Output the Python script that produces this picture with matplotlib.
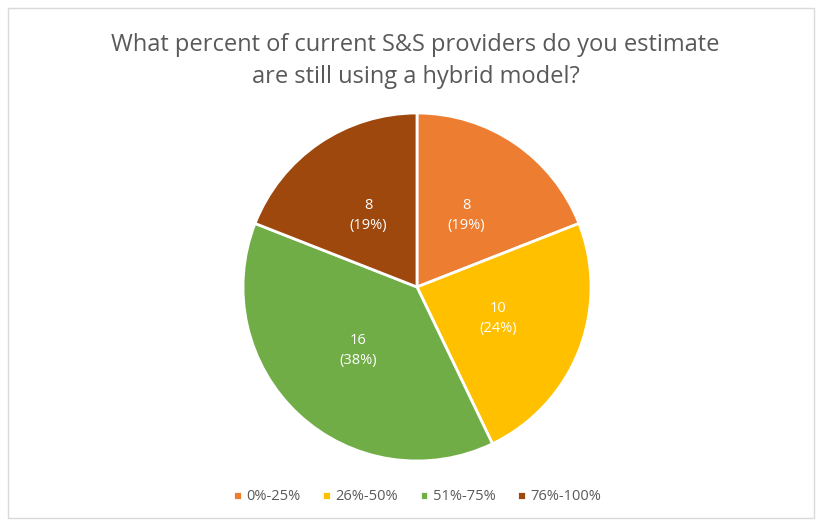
import matplotlib
matplotlib.use('Agg')
import matplotlib.pyplot as plt
from matplotlib.patches import Rectangle

# survey answers
categories = ['0%-25%', '26%-50%', '51%-75%', '76%-100%']
counts = [8, 10, 16, 8]
colors = ['#ED7D31', '#FFC000', '#70AD47', '#9E480E']

title = 'What percent of current S&S providers do you estimate\nare still using a hybrid model?'

plt.rcParams['font.family'] = ['Open Sans', 'DejaVu Sans']

W, H = 818, 522
fig = plt.figure(figsize=(W / 100, H / 100), dpi=100)

# light frame around the chart area
fig.patches.append(Rectangle((8 / W, 4 / H), 806 / W, 510 / H, transform=fig.transFigure,
                             fill=False, edgecolor='#D9D9D9', linewidth=1))

cx, cy, r = 417, 287, 174
ax = fig.add_axes([(cx - r) / W, 1 - (cy + r) / H, 2 * r / W, 2 * r / H])

total = sum(counts)


def fmt(p):
    v = int(round(p * total / 100))
    return '{}\n({:.0f}%)'.format(v, p)


wedges, texts, autotexts = ax.pie(counts, colors=colors, startangle=90, counterclock=False,
                                  autopct=fmt, pctdistance=0.5, radius=1,
                                  wedgeprops=dict(edgecolor='white', linewidth=2),
                                  textprops=dict(color='white', fontsize=10.5))
for t in autotexts:
    t.set_linespacing(1.45)
ax.set_xlim(-1, 1)
ax.set_ylim(-1, 1)
ax.set_aspect('equal')

fig.text(0.508, 1 - 61 / H, title, ha='center', va='center', fontsize=17,
         color='#595959', linespacing=1.4)

fig.legend(wedges, categories, loc='center', bbox_to_anchor=(0.51, 1 - 497 / H), ncol=4,
           frameon=False, fontsize=10.5, labelcolor='#595959', handlelength=0.6, handleheight=0.6,
           handletextpad=0.3, columnspacing=1.5)

fig.savefig('out.png', dpi=100)
